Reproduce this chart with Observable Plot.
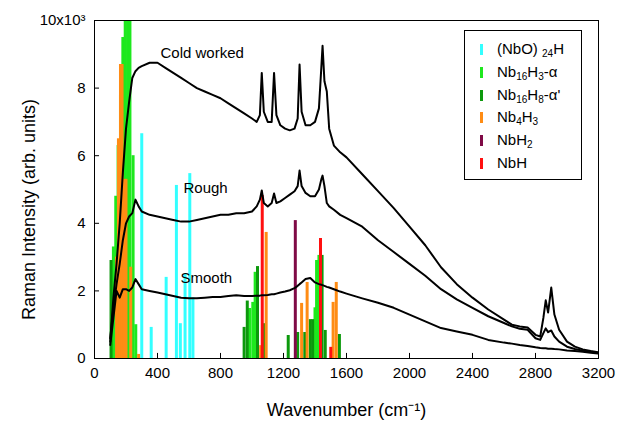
<!DOCTYPE html>
<html><head><meta charset="utf-8">
<script src="https://cdn.jsdelivr.net/npm/d3@7"></script>
<script src="https://cdn.jsdelivr.net/npm/@observablehq/plot@0.6"></script>
<style>
body{margin:0;background:#fff;font-family:"Liberation Sans",Arial,Helvetica,sans-serif;}
#wrap{position:relative;width:633px;height:423px;}
#legend{position:absolute;left:464px;top:30px;width:116px;height:148px;border:1px solid #000;background:#fff;font-size:15px;color:#000;}
.row{position:absolute;left:0;height:20px;line-height:20px;width:116px;}
.sw{position:absolute;left:15px;top:5px;width:3px;height:11px;}
.lab{position:absolute;left:32px;white-space:nowrap;}
sub{font-size:10px;vertical-align:-3px;line-height:0;}
</style></head><body><div id="wrap"></div>
<script>
// wavenumber grid (cm-1)
const wn = [100,120,140,160,180,200,220,240,260,280,300,350,400,450,500,550,600,650,700,750,800,850,900,950,1000,1030,1050,1062,1075,1100,1125,1140,1155,1180,1210,1240,1270,1290,1302,1315,1340,1370,1400,1425,1440,1448,1460,1475,1490,1520,1560,1600,1700,1800,1900,2000,2100,2200,2300,2400,2500,2600,2650,2700,2750,2800,2830,2850,2865,2880,2900,2920,2950,3000,3050,3100,3150,3200];
// intensities (x10^3)
const cold = [0.5,1.8,2.8,4.0,5.5,6.8,7.6,8.3,8.5,8.6,8.65,8.75,8.75,8.6,8.45,8.3,8.15,8.0,7.9,7.8,7.7,7.55,7.4,7.25,7.1,7.0,7.2,8.45,7.3,7.0,7.0,8.45,7.2,6.9,6.8,6.75,6.8,7.1,8.7,7.3,6.9,6.9,7.0,7.4,8.6,9.25,8.2,7.9,6.8,6.3,6.1,5.95,5.45,4.95,4.45,3.9,3.35,2.7,2.2,1.8,1.45,1.15,1.0,0.95,0.92,0.7,0.65,1.2,1.72,1.36,2.1,1.3,0.85,0.5,0.35,0.27,0.22,0.18];
const rough = [0.6,1.5,2.2,2.8,3.5,4.0,4.2,4.3,4.7,4.5,4.35,4.25,4.2,4.15,4.1,4.05,4.05,4.1,4.15,4.2,4.25,4.25,4.3,4.3,4.35,4.5,4.7,4.97,4.6,4.5,4.6,4.88,4.6,4.65,4.75,4.85,4.95,5.1,5.56,5.1,4.9,4.8,4.8,5.0,5.3,5.41,5.1,4.6,4.5,4.4,4.25,4.15,3.9,3.5,3.15,2.8,2.45,2.05,1.75,1.5,1.25,1.05,0.95,0.88,0.85,0.6,0.55,0.75,0.89,0.78,0.83,0.65,0.5,0.35,0.28,0.23,0.2,0.17];
const smooth = [0.4,1.2,2.0,1.8,2.05,2.05,2.0,2.1,2.35,2.2,2.05,2.0,1.95,1.9,1.85,1.8,1.78,1.78,1.8,1.82,1.82,1.85,1.87,1.85,1.85,1.86,1.86,1.87,1.87,1.88,1.9,1.9,1.92,1.95,1.98,2.02,2.08,2.15,2.2,2.25,2.35,2.38,2.25,2.2,2.18,2.17,2.15,2.12,2.1,2.05,1.98,1.92,1.78,1.65,1.5,1.3,1.1,0.9,0.8,0.7,0.55,0.47,0.44,0.4,0.37,0.33,0.31,0.3,0.3,0.29,0.29,0.28,0.27,0.24,0.22,0.2,0.17,0.15];
const curveNames = ["Cold worked","Rough","Smooth"];
const curveLabelX = [419,565,546];
const curveLabelY = [9.02,5.03,2.37];

// calculated line positions (species index, wavenumber, height x10^3)
const speciesNames = ["(NbO)24H","Nb16H3-α","Nb16H8-α'","Nb4H3","NbH2","NbH"];
const speciesColors = ["#33ffff","#1ee81e","#0c990c","#ff8c14","#7f0a46","#ff1010"];
const barSpecies = [0,0,0,0,0,0,0,0,
  1,1,1,1,1,1,1,1,1,1,1,1,1,1,1,1,
  2,2,2,2,2,2,2,2,2,2,2,2,2,
  3,3,3,3,3,3,3,3,3,3,3,3,3,3,
  4,
  5,5,5];
const barX = [300,360,455,520,545,575,605,625,
  120,135,150,165,180,195,210,225,245,262,985,1005,1020,1400,1410,1425,
  105,950,970,1035,1080,1230,1290,1335,1370,1385,1445,1465,1555,
  140,152,165,175,190,200,230,280,1055,1090,1315,1350,1515,1535,
  1275,
  1065,1435,1500];
const barH = [6.65,0.92,2.4,5.12,1.03,2.5,5.47,1.8,
  3.3,4.8,6.3,7.8,9.5,11,11,11,6.0,1.0,1.48,1.66,2.55,1.5,2.9,3.05,
  2.9,0.92,1.7,2.72,1.03,0.68,0.77,0.77,1.15,1.15,3.05,0.83,0.71,
  3.0,6.5,8.7,8.7,5.3,5.3,2.7,0.12,0.38,3.73,1.63,2.25,1.66,2.25,
  4.08,
  4.82,3.55,0.33];

const xTicks = [0,400,800,1200,1600,2000,2400,2800,3200];
const yTicks = [0,2,4,6,8,10];

const rows = wn.map((x,i)=>({x, cold:cold[i], rough:rough[i], smooth:smooth[i]}));
const bars = barX.map((x,i)=>({x, h:barH[i], s:barSpecies[i]}));
const labels = curveNames.map((t,i)=>({t, x:curveLabelX[i], y:curveLabelY[i]}));

const font = "Liberation Sans, Arial, Helvetica, sans-serif";
const chart = Plot.plot({
  width:633, height:423,
  marginTop:20, marginRight:35, marginBottom:65, marginLeft:94,
  x:{domain:[0,3200]}, y:{domain:[0,10]},
  style:{fontFamily:font, fontSize:"15px", color:"#000", background:"#fff"},
  marks:[
    ...speciesNames.map((s,k)=>Plot.ruleX(bars.filter(b=>b.s===k),{x:"x", y1:0, y2:"h", stroke:speciesColors[k], strokeWidth:3, clip:true})),
    ...["cold","rough","smooth"].map(key=>Plot.line(rows,{x:"x", y:key, stroke:"#000", strokeWidth:2, clip:true})),
    Plot.text(labels,{x:"x", y:"y", text:"t", textAnchor:"start", fontSize:15, fill:"#000"}),
    Plot.frame({stroke:"#000", strokeWidth:1}),
    Plot.ruleX(xTicks,{x:d=>d, y1:0, y2:0.15, stroke:"#000"}),
    Plot.ruleY(yTicks,{y:d=>d, x1:0, x2:32, stroke:"#000"}),
    Plot.axisX({ticks:xTicks, tickSize:0, tickPadding:9, label:null, fontSize:15, tickFormat:d=>String(d)}),
    Plot.axisY({ticks:yTicks, tickSize:0, tickPadding:9, label:null, fontSize:15, tickFormat:d=>d===10?"10x10³":String(d)}),
    Plot.text(["Wavenumber (cm⁻¹)"],{frameAnchor:"bottom", textAnchor:"middle", lineAnchor:"middle", dy:52, fontSize:18, fill:"#000"}),
    Plot.text(["Raman Intensity (arb. units)"],{frameAnchor:"left", textAnchor:"middle", lineAnchor:"middle", dx:-65, dy:20, rotate:-90, fontSize:18, fill:"#000"})
  ]
});
const wrap = document.getElementById("wrap");
wrap.appendChild(chart);

const legend = document.createElement("div");
legend.id = "legend";
const legendHtml = ["(NbO) <sub>24</sub>H","Nb<sub>16</sub>H<sub>3</sub>-α","Nb<sub>16</sub>H<sub>8</sub>-α'","Nb<sub>4</sub>H<sub>3</sub>","NbH<sub>2</sub>","NbH"];
speciesNames.forEach((s,k)=>{
  const r = document.createElement("div");
  r.className = "row";
  r.style.top = (8 + k*22.8) + "px";
  r.innerHTML = `<span class="sw" style="background:${speciesColors[k]}"></span><span class="lab">${legendHtml[k]}</span>`;
  legend.appendChild(r);
});
wrap.appendChild(legend);
</script></body></html>
